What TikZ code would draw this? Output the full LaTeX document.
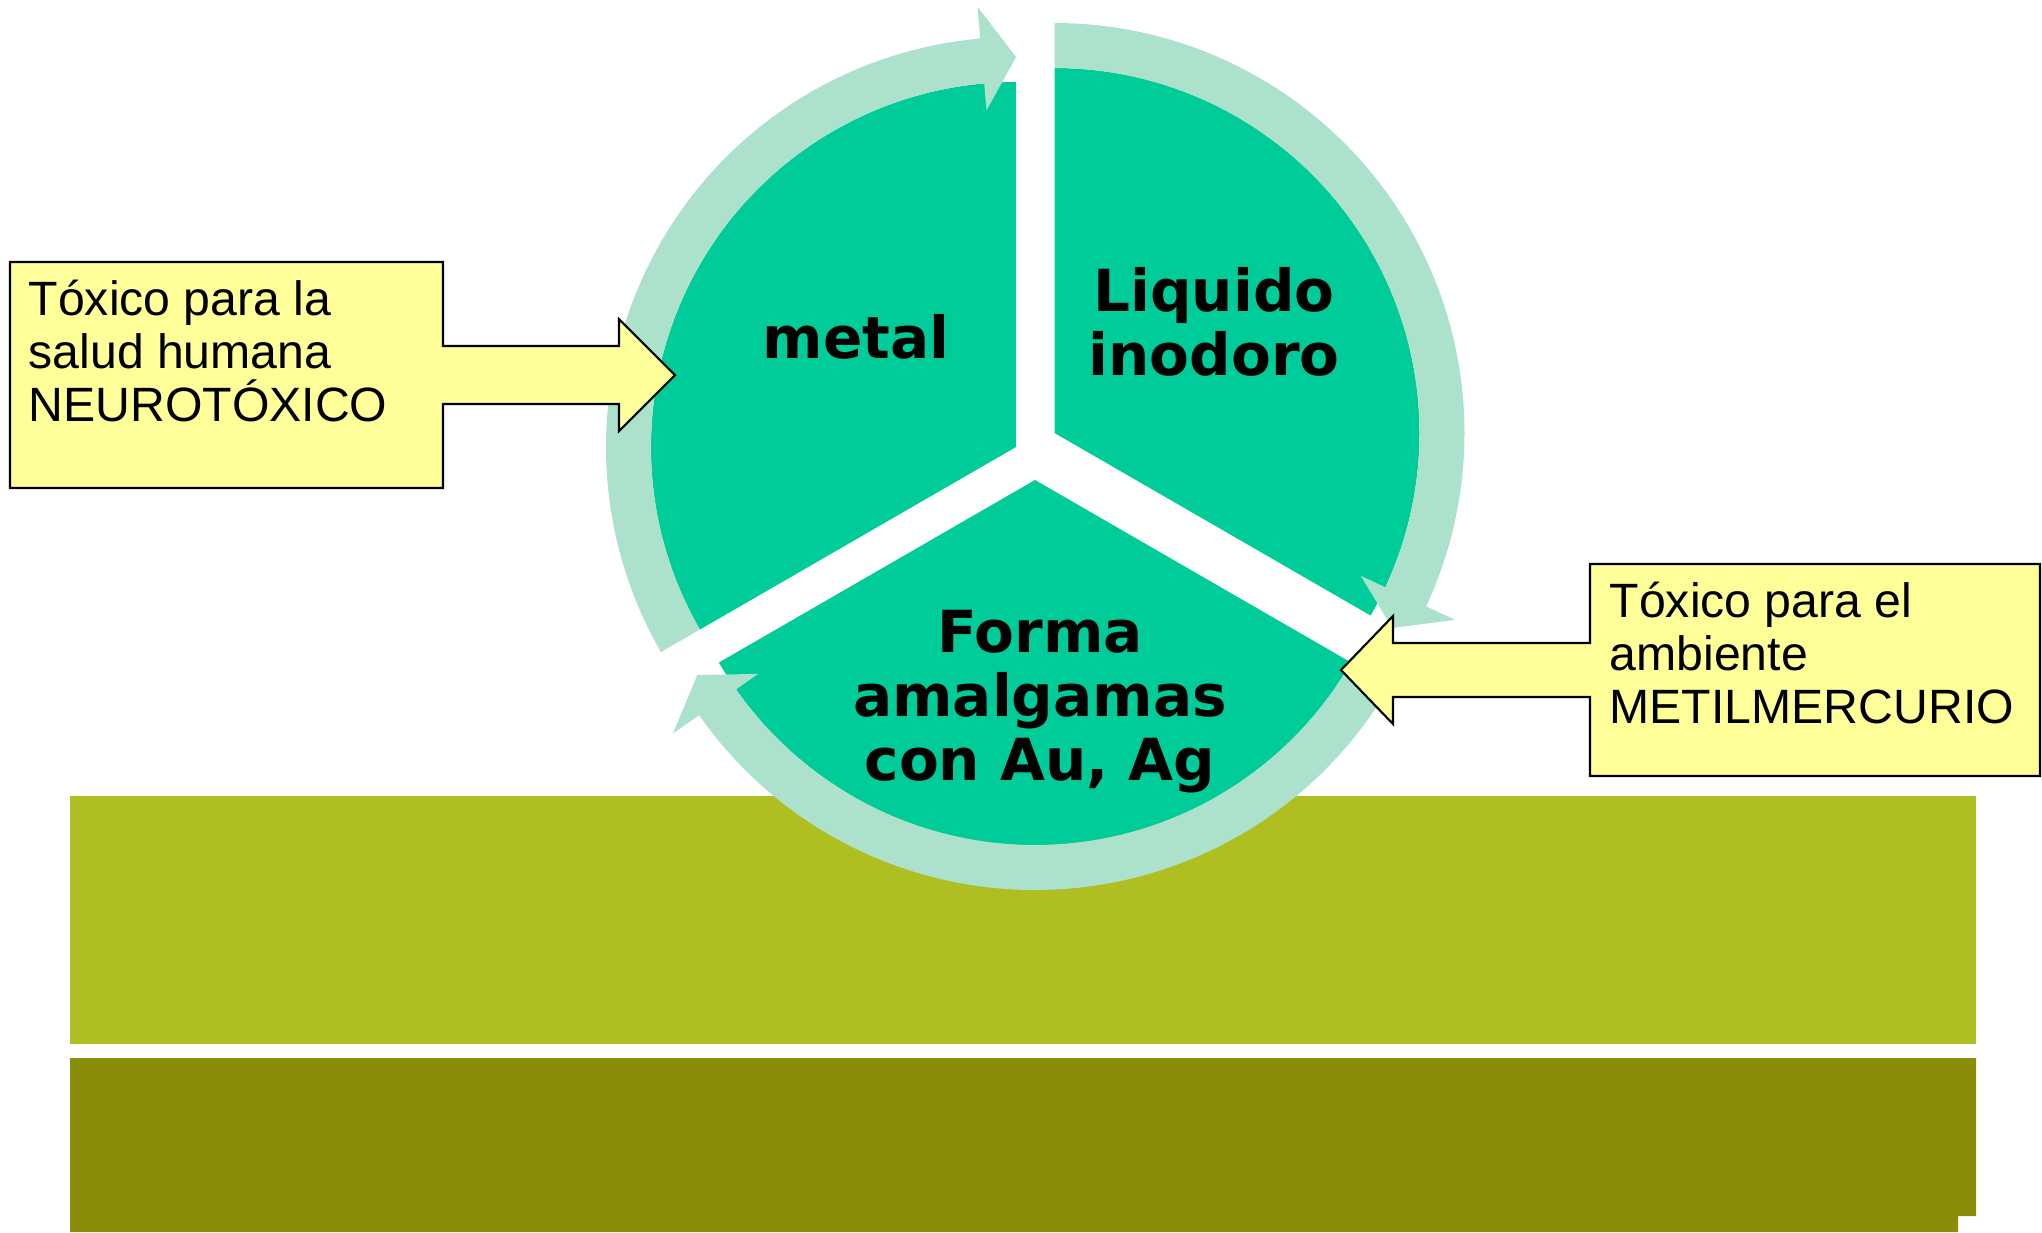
\documentclass[tikz,border=0pt]{standalone}
\usepackage{fontspec}
\setmainfont{Liberation Sans}
\newfontfamily\labelfont{DejaVu Sans}
\definecolor{segGreen}{RGB}{0,204,153}
\definecolor{ringGreen}{RGB}{172,226,204}
\definecolor{noteYellow}{RGB}{255,255,153}
\definecolor{barLight}{RGB}{175,190,33}
\definecolor{barDark}{RGB}{138,141,7}
\newcommand{\SegArrow}[2]{%
  \fill[segGreen, shift={(#1)}] (0,0) -- (#2:365)
    arc[start angle=#2, end angle=#2+120, radius=365] -- cycle;
  \fill[ringGreen, shift={(#1)}] (#2:410)
    arc[start angle=#2, end angle=#2+115, radius=410]
    -- (#2+115:442) -- (#2+120:390) -- (#2+115:338) -- (#2+115:365)
    arc[start angle=#2+115, end angle=#2, radius=365] -- cycle;}

\begin{document}
\begin{tikzpicture}[x=0.01cm, y=-0.01cm,
  seclabel/.style={font=\labelfont\bfseries\fontsize{16.5}{18.2}\selectfont, align=center, inner sep=0pt},
  notetext/.style={font=\fontsize{13.7}{15}\selectfont, align=left, anchor=west, inner sep=0pt},
  note/.style={fill=noteYellow, draw=black, line width=0.6pt}]

  \useasboundingbox (0,0) rectangle (2042,1232);

  % bars
  \fill[barLight] (70,796) rectangle (1976,1044);
  \fill[barDark] (70,1058) -- (1976,1058) -- (1976,1216) -- (1958,1216) -- (1958,1232) -- (70,1232) -- cycle;

  \coordinate (L) at (1016,447);
  \coordinate (R) at (1054.5,433);
  \coordinate (B) at (1035,480);

  \SegArrow{L}{-210}
  \SegArrow{R}{-90}
  \SegArrow{B}{30}

  \node[seclabel] (metal) at (856,337) {metal};
  \node[seclabel] (liquido) at (1214,322) {Liquido\\inodoro};
  \node[seclabel] (forma) at (1040,702) {Forma\\amalgamas\\con Au, Ag};

  % callouts
  \draw[note] (10,262) -- (443,262) -- (443,346) -- (619,346) -- (619,319) -- (675,375) -- (619,431)
    -- (619,404) -- (443,404) -- (443,488) -- (10,488) -- cycle;
  \node[notetext] (salud) at (28,351) {Tóxico para la\\salud humana\\NEUROTÓXICO};

  \draw[note] (2040,564) -- (1590,564) -- (1590,643) -- (1393,643) -- (1393,616) -- (1341,670) -- (1393,724)
    -- (1393,697) -- (1590,697) -- (1590,776) -- (2040,776) -- cycle;
  \node[notetext] (ambiente) at (1609,653) {Tóxico para el\\ambiente\\METILMERCURIO};

\end{tikzpicture}
\end{document}
